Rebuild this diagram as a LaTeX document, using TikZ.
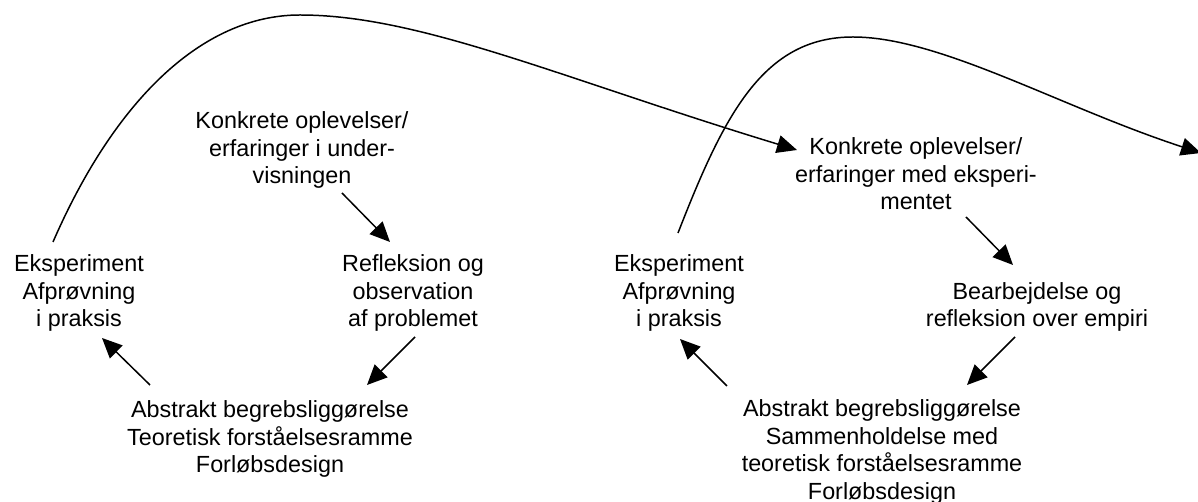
\documentclass[tikz,border=0pt]{standalone}
\usepackage{fontspec}
\setmainfont{Liberation Sans}
\usepackage{tikz}
\usetikzlibrary{arrows.meta}
\tikzstyle{txt}=[align=center, inner sep=0pt, font=\fontsize{13.3}{15.7}\selectfont]
\tikzstyle{arr}=[line width=.85pt, -{Triangle[length=4mm, width=3.6mm]}]

\begin{document}
\begin{tikzpicture}[x=0.02cm, y=-0.02cm]
    \useasboundingbox (0,0) rectangle (1198,502);
    % first cycle
    \node[txt] (K1) at (302,150) {Konkrete oplevelser/\\erfaringer i under-\\visningen};
    \node[txt] (R1) at (413,293) {Refleksion og\\observation\\af problemet};
    \node[txt] (A1) at (270,439) {Abstrakt begrebsliggørelse\\Teoretisk forståelsesramme\\Forløbsdesign};
    \node[txt] (E1) at (79,293) {Eksperiment\\Afprøvning\\i praksis};
    % second cycle
    \node[txt] (K2) at (916,174) {Konkrete oplevelser/\\erfaringer med eksperi-\\mentet};
    \node[txt] (B2) at (1037,307) {Bearbejdelse og\\refleksion over empiri};
    \node[txt] (A2) at (882,452) {Abstrakt begrebsliggørelse\\Sammenholdelse med\\teoretisk forståelsesramme\\Forløbsdesign};
    \node[txt] (E2) at (679,293) {Eksperiment\\Afprøvning\\i praksis};
    \coordinate (out) at (1201,153);
    \foreach \from/\fx/\fy/\to/\tx/\ty in {K1/40/43/R1/-23/-51, R1/2/44/A1/97/-54,
          A1/-120/-54/E1/23/45, K2/50/43/B2/-24/-42, B2/-22/30/A2/85/-67,
          A2/-155/-66/E2/1/46}
      \draw[arr] ([shift={(\fx,\fy)}]\from.center) -- ([shift={(\tx,\ty)}]\to.center);

    \draw[arr] ([shift={(-26,-51)}]E1.center) .. controls (113,104) and (200,15) .. (300,15)
    .. controls (420,15) and (560,78) .. ([shift={(-119,-24)}]K2.center);
    \draw[arr] ([shift={(-1,-60)}]E2.center) .. controls (724,115) and (763,37) .. (853,37)
    .. controls (940,37) and (1060,107) .. (out);
\end{tikzpicture}
\end{document}
